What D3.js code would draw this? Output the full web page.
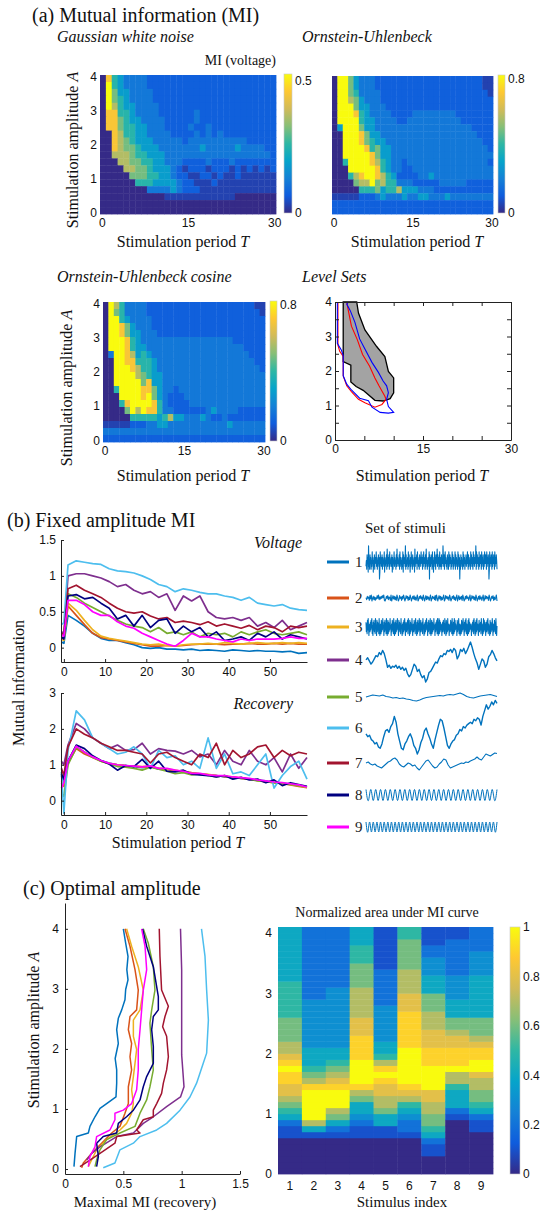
<!DOCTYPE html>
<html>
<head>
<meta charset="utf-8">
<title>Mutual information figure</title>
<script src="https://cdnjs.cloudflare.com/ajax/libs/d3/7.8.5/d3.min.js"></script>
<style>
  body { margin: 0; background: #fff; }
</style>
</head>
<body>
<div class="container"></div>
<script>

// ---------- data ----------

// (a) heatmaps: colour level 0..9 per cell, rows from A=4 (top) down to A=0, 30 columns T=0..30
const gaussLevels = [
  "0854333322"+"2222222222"+"2222222222",
  "0954333322"+"2222222222"+"2222222222",
  "0964433332"+"2222222222"+"2222222222",
  "0965433332"+"2222222222"+"2222222222",
  "0975443333"+"2222222222"+"2222222222",
  "0885543333"+"2222223222"+"2222222222",
  "0886544333"+"3222223222"+"2222222222",
  "0886554433"+"3222232232"+"2222222222",
  "0087554433"+"3322223232"+"3222222222",
  "0087654443"+"3333233333"+"3333322222",
  "0087665444"+"3333333433"+"3334333322",
  "0077765544"+"4333333333"+"3333333332",
  "0007766554"+"4333222232"+"2232222222",
  "0000776654"+"4432122212"+"2212121212",
  "0000066655"+"4432211221"+"2112111111",
  "0000005554"+"4443221112"+"1111111111",
  "0000000033"+"3343222111"+"1111111111",
  "0000000000"+"0111111111"+"1110000000",
  "0000000000"+"0000000000"+"0000000000",
  "0000000000"+"0000000000"+"0000000000"
];
const ouLevels = [
  "0996433322"+"2222222222"+"2222222211",
  "0996433322"+"2222222222"+"2222222211",
  "0996533332"+"2222222222"+"2222222221",
  "0997643332"+"2222222222"+"2222222222",
  "0999644333"+"2222222222"+"2222222222",
  "0999854333"+"3222233333"+"3332222222",
  "0999954433"+"3322333333"+"3333222222",
  "0499964433"+"3333333333"+"3333332222",
  "0099986443"+"3333333333"+"3333333222",
  "0099986544"+"3333333333"+"3333333322",
  "0099998564"+"4333333333"+"3333333332",
  "0099999864"+"4333333333"+"3333333333",
  "0059999875"+"4332333333"+"3333333332",
  "0009999985"+"4332233333"+"3333333333",
  "0005789987"+"5422223343"+"3333333333",
  "0000677967"+"5533322222"+"3333322222",
  "0000055564"+"5574443332"+"2222222222",
  "1111122234"+"3334334433"+"3433333333",
  "2222222222"+"2222222222"+"2222222222",
  "2222222222"+"2222222222"+"2222222222"
];
const oucLevels = [
  "0975333322"+"2222222222"+"2222222211",
  "0965333322"+"2222222222"+"2222222221",
  "0995433332"+"2222222222"+"2222222222",
  "0998643332"+"2222222222"+"2222222222",
  "0998644333"+"2222222222"+"2222222222",
  "0999854333"+"3333333333"+"3333222222",
  "0999854433"+"3333333333"+"3333332222",
  "0399874543"+"3333333333"+"3333333222",
  "0099885554"+"3333333333"+"3333333322",
  "0099987554"+"3333333333"+"3333333332",
  "0099997654"+"4333333333"+"3333333333",
  "0099999684"+"4333333333"+"3333333333",
  "0059999886"+"4332333333"+"3333333333",
  "0009999896"+"4322233333"+"3333333333",
  "0005899998"+"5322223333"+"3333333333",
  "0000697988"+"5332222223"+"4333322222",
  "0000055555"+"4574433343"+"2232222222",
  "1111122233"+"4433333333"+"3334333333",
  "3333333333"+"3333333333"+"3333333333",
  "2222222222"+"2222222222"+"2222222222"
];
// fraction of the colour range for each level
const levelFrac = [0, 0.06, 0.14, 0.22, 0.35, 0.48, 0.6, 0.7, 0.86, 1];
const gaussMax = 0.5, ouMax = 0.8, oucMax = 0.8;

// level sets [T, A]
const levelGray = [[1.4,4],[1.4,2.27],[2.7,2.17],[2.7,1.68],[3.6,1.55],[4.8,1.44],[6.8,1.15],[8.2,1.13],[9.4,1.2],[10,1.37],[10,1.8],[9.1,1.99],[8.5,2.42],[7.1,2.71],[5.1,3.19],[4.0,3.68],[3.7,4]];
const levelRed = [[0.5,4],[0.5,2.75],[0.8,2.57],[1.4,2.42],[1.4,1.86],[2.0,1.57],[2.8,1.4],[4,1.18],[5.1,1.08],[6.8,0.95],[8.0,1.03],[8.7,1.18],[8.5,1.27],[7.5,1.57],[6.8,1.8],[5.9,2.14],[4.7,2.48],[3.8,2.91],[2.8,3.3],[2.3,3.73],[2.0,4.0]];
const levelBlue = [[0.4,4],[0.4,2.8],[1.1,2.6],[1.4,2.45],[1.4,1.86],[2.0,1.62],[2.8,1.45],[4.2,1.21],[5.7,1.14],[6.3,0.95],[7.7,0.8],[9.1,0.78],[10,0.8],[9.1,0.97],[8.8,1.18],[9.1,1.37],[8.8,1.57],[8.2,1.71],[7.4,1.96],[6.3,2.25],[5.1,2.64],[4.2,2.93],[3.4,3.41],[2.6,3.75],[2.0,3.94],[2.3,4.0]];

// (b) fixed amplitude MI
const stimIds = [1,2,3,4,5,6,7,8,9];
const tB = [-0.6,0,1,3,5,7,9,11,13,15,17,19,21,23,25,27,29,31,33,35,37,39,41,43,45,47,49,51,53,55,57,59];
const voltMI = [
  [0.08,0.06,0.45,0.38,0.30,0.20,0.13,0.10,0.10,0.07,0.04,0.00,-0.01,0.00,-0.02,-0.02,-0.03,-0.02,-0.04,-0.03,-0.04,-0.05,-0.03,-0.04,-0.05,-0.04,-0.05,-0.05,-0.06,-0.05,-0.08,-0.07],
  [0.15,0.12,0.58,0.45,0.32,0.20,0.14,0.12,0.10,0.08,0.06,0.04,0.02,0.02,0.03,0.02,0.03,0.04,0.05,0.05,0.05,0.04,0.05,0.05,0.06,0.05,0.05,0.06,0.05,0.06,0.05,0.05],
  [0.12,0.10,0.62,0.52,0.38,0.25,0.16,0.13,0.11,0.09,0.07,0.05,0.04,0.05,0.03,0.02,0.04,0.05,0.05,0.06,0.05,0.07,0.06,0.05,0.06,0.07,0.06,0.06,0.07,0.06,0.07,0.06],
  [0.22,0.20,1.00,1.03,1.03,1.00,0.97,0.92,0.85,0.88,0.80,0.75,0.78,0.70,0.75,0.52,0.72,0.65,0.72,0.50,0.42,0.40,0.42,0.38,0.42,0.30,0.35,0.28,0.38,0.25,0.30,0.35],
  [0.20,0.18,0.75,0.70,0.62,0.56,0.50,0.44,0.38,0.33,0.30,0.28,0.22,0.28,0.20,0.22,0.18,0.22,0.15,0.20,0.18,0.20,0.15,0.22,0.18,0.22,0.25,0.20,0.18,0.20,0.22,0.18],
  [0.32,0.35,1.15,1.21,1.19,1.17,1.16,1.10,1.07,1.06,1.04,1.00,0.95,0.88,0.85,0.78,0.82,0.80,0.77,0.75,0.75,0.72,0.70,0.66,0.70,0.62,0.60,0.58,0.60,0.55,0.53,0.52],
  [0.20,0.18,0.82,0.87,0.80,0.75,0.70,0.62,0.55,0.50,0.48,0.50,0.44,0.40,0.42,0.35,0.37,0.35,0.32,0.36,0.30,0.33,0.30,0.27,0.31,0.25,0.30,0.28,0.22,0.30,0.28,0.30],
  [0.15,0.12,0.72,0.74,0.68,0.70,0.62,0.55,0.40,0.45,0.30,0.45,0.28,0.38,0.40,0.20,0.30,0.22,0.28,0.15,0.22,0.10,0.12,0.15,0.10,0.20,0.15,0.22,0.12,0.18,0.15,0.12],
  [0.18,0.16,0.66,0.66,0.60,0.50,0.45,0.45,0.36,0.30,0.27,0.20,0.15,0.10,0.05,0.02,0.10,0.20,0.15,0.15,0.12,0.10,0.08,0.12,0.10,0.12,0.12,0.12,0.13,0.15,0.13,0.13]
];
const recMI = [
  [0.7,0.5,1.1,1.5,1.35,1.22,1.12,1.05,1.0,0.98,0.95,0.92,0.95,0.88,0.87,0.82,0.8,0.76,0.74,0.72,0.7,0.66,0.65,0.62,0.6,0.57,0.55,0.5,0.49,0.46,0.43,0.38],
  [0.5,0.4,1.05,1.45,1.3,1.2,1.1,1.03,1.0,0.97,0.96,0.93,0.95,0.9,0.88,0.83,0.82,0.78,0.75,0.72,0.7,0.67,0.66,0.62,0.6,0.56,0.53,0.5,0.48,0.44,0.4,0.36],
  [0.55,0.45,1.1,1.5,1.35,1.22,1.1,1.04,1.0,0.98,0.97,0.95,0.96,0.9,0.88,0.85,0.8,0.77,0.75,0.73,0.7,0.68,0.66,0.63,0.6,0.57,0.53,0.5,0.48,0.45,0.42,0.37],
  [1.1,1.0,1.55,2.15,2.0,1.75,1.6,1.45,1.55,1.4,1.42,1.6,1.3,1.45,1.4,1.38,1.3,1.4,1.22,1.3,1.0,1.4,1.1,1.0,1.4,1.1,1.0,1.2,0.8,1.3,0.9,1.2],
  [0.2,0.12,1.0,1.48,1.35,1.2,1.1,1.02,0.95,0.93,0.9,0.85,0.93,0.88,0.82,0.75,0.78,0.72,0.74,0.7,0.66,0.7,0.62,0.64,0.6,0.55,0.53,0.5,0.47,0.45,0.42,0.38],
  [0.8,-0.35,1.4,2.5,2.25,1.75,1.6,1.45,1.3,1.35,1.5,1.3,0.9,1.4,1.2,1.25,1.0,1.1,0.9,1.75,0.9,1.3,0.75,0.8,0.7,1.0,1.3,0.35,0.7,0.95,1.1,0.6],
  [0.9,0.7,1.5,2.0,1.85,1.75,1.6,1.5,1.4,1.4,1.35,1.3,1.05,1.3,1.35,1.2,1.1,1.0,1.3,1.2,1.6,1.0,1.4,1.2,1.3,1.5,1.55,1.2,1.4,1.25,1.35,1.3],
  [0.75,0.6,1.1,1.55,1.45,1.25,1.12,1.02,0.85,0.98,0.95,1.15,0.9,1.1,0.82,0.8,0.85,0.74,0.72,0.7,0.66,0.7,0.6,0.65,0.58,0.6,0.5,0.58,0.42,0.5,0.45,0.4],
  [0.35,0.5,1.1,1.52,1.35,1.22,1.12,1.04,1.0,0.98,0.96,0.94,0.97,0.9,0.9,0.85,0.82,0.76,0.76,0.72,0.7,0.7,0.66,0.64,0.62,0.58,0.55,0.52,0.5,0.47,0.44,0.38]
];

// stimulus traces: noise strings (digit levels, u/d = spikes), walks in [-1,1], sines as +/- peaks
const stim1 = "3527461u35"+"2746253846"+"1537264583"+"6254736d18"+"4635726453"+"8163547295"+"3647283546"+"3716254836"+"4527394635"+"4728364526"+
              "38175463u2"+"7354628374"+"5163846273"+"5461936457"+"2846352746"+"3854627384"+"6527394625"+"3648d75364"+"7283516483"+"6274593746"+
              "2583462735"+"4u63725846"+"3527462835"+"7462538472"+"6354827364"+"5283746d52"+"7364528374"+"6254736485"+"2736452847"+"3652847365"+
              "4u28374652"+"8364752836"+"4725386475"+"2836475d28"+"3647528364"+"7528364752";
const stim2 = "5274618390"+"4726153849"+"2637485910"+"3748265190"+"4837261950"+"2846173950"+"3847162950"+"4738261590"+"2748361950"+"4827361590"+
              "3746281950"+"4837162590"+"2847361950"+"3748261590"+"4826371950"+"2738461590"+"3847261950"+"4728361590"+"2837461950"+"3748162590";
const stim3 = "7261839405"+"6273849150"+"7382619450"+"8273619405"+"6182739450"+"7283619405"+"8172639450"+"6283719405"+"7182639450"+"8273619450"+
              "6172839405"+"7263819450"+"8172639405"+"6283719450"+"7182639405"+"8263719450"+"6172839450"+"7283619405"+"8172639450"+"6273819405"+
              "9182736405"+"7283619540"+"8172936405"+"6283719504"+"7192836450"+"8273916405"+"6182739540"+"7283916405"+"8192736450"+"6273819540"+
              "7182936405"+"8263719540"+"6192837405"+"7283916450"+"8172639504"+"6283719405";
const stim4 = [0.1,0.2,0.05,-0.1,0.0,0.15,0.3,0.25,0.45,0.35,0.55,0.4,0.1,-0.25,-0.15,-0.3,-0.2,-0.25,-0.15,-0.3,-0.2,-0.35,-0.25,-0.4,-0.3,-0.55,-0.7,-0.6,-0.35,-0.1,-0.2,-0.45,-0.35,-0.6,-0.75,-0.65,-0.95,-0.8,-0.5,-0.45,-0.3,-0.15,0.0,-0.05,0.15,0.3,0.25,0.4,0.35,0.55,0.5,0.6,0.45,0.65,0.55,0.15,0.3,0.6,0.5,0.65,0.4,0.55,0.75,0.95,0.7,0.4,0.15,-0.05,-0.35,-0.1,0.15,0.05,-0.25,-0.1,0.25,0.35,0.55,0.4,0.2,0.05];
const stim5 = [0,0.2,0.4,0.3,0.2,0.4,0.1,0,-0.2,-0.1,-0.3,-0.2,-0.4,-0.5,-0.7,-0.8,-0.6,-0.3,-0.1,0,0.1,0.2,0.3,0.2,0.4,0.5,0.4,0.6,0.8,0.5,0.1,-0.1,-0.2,0.0,0.2,0.3,0.4,0.5,0.3,0.1];
const stim6 = [-0.2,-0.3,-0.25,-0.4,-0.45,-0.55,-0.5,-0.65,-0.7,-0.55,-0.3,-0.1,-0.05,-0.15,0.05,0.15,0.4,0.2,-0.2,-0.45,-0.7,-0.75,-0.55,-0.45,-0.3,-0.2,-0.35,-0.6,-0.7,-0.9,-0.75,-0.5,-0.35,-0.1,0.0,-0.2,-0.35,-0.55,-0.7,-0.4,-0.15,0.1,0.3,0.25,0.0,-0.3,-0.6,-0.7,-0.55,-0.45,-0.4,-0.25,-0.2,-0.05,-0.1,0.05,0.0,0.1,0.15,0.2,0.15,0.3,0.25,0.35,0.3,0.1,0.4,0.6,0.8,0.65,0.75,0.9,0.8,0.95,0.85];
const stim7 = [-0.1,0.0,-0.2,-0.3,-0.2,-0.4,-0.5,-0.6,-0.4,-0.2,0.0,0.1,0.3,0.4,0.2,-0.2,-0.4,-0.5,-0.3,-0.1,-0.2,-0.4,-0.3,-0.6,-0.8,-0.5,-0.2,0.1,0.2,-0.1,-0.4,-0.6,-0.5,-0.2,0.0,0.3,0.2,-0.3,-0.6,-0.5,-0.4,-0.3,-0.2,-0.1,-0.15,0.0,-0.05,0.1,0.2,0.3,0.5,0.3,0.2,0.5,0.8,0.7,0.6,0.75,0.9,0.85];
const stim8 = "+-+-+-+-+-"+"+-+-+-+-+-"+"+-+-+-+-+-"+"+-+-+-+-+-"+"+-+-+-+-+-"+"+-+-+";
const stim9 = "+-+-+-+-+-"+"+-+-+-+-+-"+"+-+-+-+-+-"+"+-+-+-+-+-"+"+-+-+-+-+-"+"+-+-+-+-+-"+"+-+-+-+-+-"+"+-+";

// (c) maximal MI vs amplitude, [MI, A]
const optMI = [
  [[0.077,0.04],[0.086,0.26],[0.1,0.54],[0.2,0.6],[0.214,0.71],[0.257,0.87],[0.3,1.01],[0.357,1.09],[0.437,1.2],[0.443,1.43],[0.443,1.65],[0.43,1.84],[0.457,2.09],[0.443,2.32],[0.457,2.51],[0.486,2.65],[0.514,2.82],[0.52,2.99],[0.54,3.15],[0.53,3.32],[0.54,3.54],[0.52,3.76],[0.5,4.0]],
  [[0.143,0.02],[0.157,0.1],[0.228,0.26],[0.314,0.43],[0.4,0.6],[0.471,0.71],[0.514,0.93],[0.543,1.09],[0.543,1.37],[0.571,1.65],[0.557,1.87],[0.571,2.09],[0.543,2.32],[0.557,2.54],[0.614,2.65],[0.628,2.98],[0.6,3.32],[0.557,3.71],[0.514,4.0]],
  [[0.2,0.04],[0.228,0.15],[0.271,0.32],[0.357,0.49],[0.471,0.65],[0.528,0.76],[0.571,0.93],[0.586,1.09],[0.571,1.32],[0.586,1.54],[0.6,1.76],[0.614,1.99],[0.586,2.21],[0.586,2.48],[0.643,2.65],[0.671,2.98],[0.628,3.37],[0.571,3.71],[0.528,4.0]],
  [[0.186,0.15],[0.228,0.26],[0.3,0.37],[0.443,0.54],[0.586,0.6],[0.671,0.76],[0.757,0.87],[0.871,1.04],[0.99,1.2],[1.02,1.37],[1.0,1.9],[1.0,2.48],[1.0,3.32],[0.99,4.0]],
  [[0.257,0.04],[0.271,0.15],[0.3,0.32],[0.357,0.49],[0.471,0.6],[0.6,0.71],[0.643,0.93],[0.7,1.15],[0.728,1.37],[0.757,1.65],[0.743,1.99],[0.728,2.43],[0.743,2.65],[0.771,2.98],[0.757,3.37],[0.714,3.76],[0.671,4.0]],
  [[0.328,0.02],[0.428,0.1],[0.471,0.32],[0.586,0.43],[0.643,0.54],[0.786,0.65],[0.871,0.76],[0.986,0.98],[1.071,1.2],[1.128,1.43],[1.185,1.76],[1.214,1.93],[1.229,2.48],[1.214,2.98],[1.2,3.54],[1.17,4.0]],
  [[0.128,0.04],[0.214,0.15],[0.3,0.26],[0.428,0.43],[0.443,0.54],[0.643,0.6],[0.614,0.65],[0.671,0.82],[0.757,0.87],[0.757,0.98],[0.786,1.09],[0.828,1.26],[0.843,1.43],[0.871,1.65],[0.886,1.87],[0.871,2.21],[0.837,2.37],[0.857,2.54],[0.886,2.71],[0.828,2.98],[0.814,3.54],[0.808,4.0]],
  [[0.271,0.04],[0.286,0.21],[0.271,0.43],[0.328,0.54],[0.443,0.6],[0.457,0.76],[0.528,0.87],[0.586,0.98],[0.643,1.15],[0.671,1.37],[0.7,1.54],[0.757,1.76],[0.757,2.04],[0.743,2.32],[0.757,2.54],[0.8,2.65],[0.8,2.87],[0.757,3.37],[0.7,3.71],[0.665,4.0]],
  [[0.2,0.04],[0.214,0.21],[0.257,0.37],[0.271,0.54],[0.385,0.65],[0.428,0.82],[0.428,0.93],[0.5,0.98],[0.571,1.09],[0.614,1.32],[0.628,1.65],[0.628,1.99],[0.643,2.32],[0.657,2.65],[0.671,2.98],[0.7,3.32],[0.686,3.71],[0.657,4.0]]
];

// (c) normalized area under MI curve: one string per stimulus, A = 0.0 .. 4.0 step 0.1, char/10
const areaCols = [
  "000000112456788"+"99a98"+"776666"+"555555"+"444444444",
  "000000147aaaaa9"+"76544"+"433333"+"333222"+"222222222",
  "00000012467aaa9"+"87654"+"433333"+"333332"+"222222222",
  "000000112344679"+"aaaa9"+"999888"+"777776"+"666555444",
  "000000114467788"+"9a975"+"443333"+"332222"+"221111111",
  "000000122345789"+"aaaaa"+"a99999"+"988877"+"776666655",
  "00011245667788a"+"aaa99"+"988877"+"766644"+"433322111",
  "000000000124445"+"77a99"+"988766"+"444333"+"322222211",
  "000000011245667"+"78aa9"+"987666"+"444444"+"433332222"
];
const areaTicks = [0,0.2,0.4,0.6,0.8,1];

// ---------- drawing ----------
const svgWidth = 544, svgHeight = 1214;
const serif = '"Liberation Serif","Times New Roman",serif';
const sans = '"Liberation Sans",Arial,Helvetica,sans-serif';
const lineColors = ["#0072BD","#D95319","#EDB120","#7E2F8E","#77AC30","#4DBEEE","#A2142F","#000080","#FF00FF"];
const parulaStops = ["#352a87","#0f5cdd","#1481d6","#06a4ca","#2eb7a4","#87bf77","#d1bb59","#fec832","#f9fb0e"];
const parula = d3.scaleLinear().domain(parulaStops.map((c,i) => i/8)).range(parulaStops).clamp(true);
const fmt = d3.format('~g');

const svg = d3.select('.container').append('svg')
  .attr('width', svgWidth).attr('height', svgHeight)
  .style('background', '#fff');
const defs = svg.append('defs');

function txt(x, y, parts, size, anchor, rot) {
  const t = svg.append('text')
    .attr('font-family', serif).attr('font-size', size)
    .attr('text-anchor', anchor || 'start').attr('fill', '#111');
  if (rot) t.attr('transform', `translate(${x},${y}) rotate(${rot})`);
  else t.attr('x', x).attr('y', y);
  (typeof parts === 'string' ? [[parts, false]] : parts).forEach(p => {
    t.append('tspan').attr('font-style', p[1] ? 'italic' : null).text(p[0]);
  });
  return t;
}

function styleAxis(g, keepDomain) {
  g.attr('font-family', sans).attr('font-size', 12);
  g.selectAll('text').attr('fill', '#111');
  g.selectAll('line').attr('stroke', '#222');
  if (keepDomain) g.select('.domain').attr('stroke', '#222');
  else g.select('.domain').remove();
}

function colorbar(id, x, y0, y1, w, top, ticks) {
  const grad = defs.append('linearGradient').attr('id', id)
    .attr('x1', 0).attr('y1', 1).attr('x2', 0).attr('y2', 0);
  parulaStops.forEach((c, i) => grad.append('stop').attr('offset', i / 8).attr('stop-color', c));
  svg.append('rect').attr('x', x).attr('y', y0).attr('width', w).attr('height', y1 - y0)
    .attr('fill', `url(#${id})`).attr('stroke', '#c8c8c8').attr('stroke-width', 0.6);
  const s = d3.scaleLinear().domain([0, top]).range([y1, y0]);
  svg.append('g').attr('transform', `translate(${x + w},0)`)
    .call(d3.axisRight(s).tickValues(ticks).tickSizeInner(0).tickSizeOuter(0).tickPadding(3).tickFormat(fmt))
    .call(g => styleAxis(g));
}

function heatmapA(levels, box, maxV, id, cbTop, withY) {
  const nR = levels.length, nC = levels[0].length;
  const xb = d3.scaleBand().domain(d3.range(nC)).range([box.x0, box.x1]);
  const yb = d3.scaleBand().domain(d3.range(nR)).range([box.y0, box.y1]);
  const cells = [];
  levels.forEach((row, i) => row.split('').forEach((c, j) => cells.push({i: i, j: j, v: levelFrac[+c] * maxV})));
  svg.append('g').selectAll('rect').data(cells).join('rect')
    .attr('x', d => xb(d.j)).attr('y', d => yb(d.i))
    .attr('width', xb.bandwidth() + 0.4).attr('height', yb.bandwidth() + 0.4)
    .attr('fill', d => parula(d.v / maxV));
  const xl = d3.scaleLinear().domain([-0.3, 30.3]).range([box.x0, box.x1]);
  const yl = d3.scaleLinear().domain([-0.05, 4.05]).range([box.y1, box.y0]);
  svg.append('g').attr('transform', `translate(0,${box.y1})`)
    .call(d3.axisBottom(xl).tickValues([0, 15, 30]).tickSize(0).tickPadding(4).tickFormat(fmt))
    .call(g => styleAxis(g));
  if (withY) {
    svg.append('g').attr('transform', `translate(${box.x0},0)`)
      .call(d3.axisLeft(yl).tickValues([0, 1, 2, 3, 4]).tickSize(0).tickPadding(3).tickFormat(fmt))
      .call(g => styleAxis(g));
  }
  colorbar(id, box.cb, box.y0 - 1, box.y1 - 1, box.cbw, cbTop, [0, maxV]);
}

// ----- panel (a)
txt(32, 22, '(a) Mutual information (MI)', 20);
txt(57, 42, [['Gaussian white noise', true]], 16);
txt(302, 42, [['Ornstein-Uhlenbeck', true]], 16);
txt(276, 65, 'MI (voltage)', 14, 'end');
txt(57, 282, [['Ornstein-Uhlenbeck cosine', true]], 16);
txt(302, 282, [['Level Sets', true]], 16);

heatmapA(gaussLevels, {x0: 100, x1: 276, y0: 75, y1: 214, cb: 284, cbw: 8}, gaussMax, 'cbG', 0.527, true);
heatmapA(ouLevels, {x0: 332, x1: 493, y0: 76, y1: 214, cb: 498, cbw: 7}, ouMax, 'cbO', 0.82, false);
heatmapA(oucLevels, {x0: 103, x1: 265, y0: 302, y1: 442, cb: 270, cbw: 7}, oucMax, 'cbC', 0.82, true);

const ylab = [['Stimulation amplitude ', false], ['A', true]];
const xlab = [['Stimulation period ', false], ['T', true]];
txt(78, 150, ylab, 16, 'middle', -90);
txt(72, 388, ylab, 16, 'middle', -90);
txt(183, 247, xlab, 16, 'middle');
txt(417, 247, xlab, 16, 'middle');
txt(183, 481, xlab, 16, 'middle');
txt(422, 481, xlab, 16, 'middle');

// level sets
const xL = d3.scaleLinear().domain([0, 30]).range([335, 511]);
const yL = d3.scaleLinear().domain([0, 4]).range([440, 302]);
const lvLine = d3.line().x(d => xL(d[0])).y(d => yL(d[1]));
svg.append('path').attr('d', lvLine(levelGray) + 'Z')
  .attr('fill', '#a3a3a3').attr('stroke', '#000').attr('stroke-width', 1.3);
svg.append('path').attr('d', lvLine(levelRed)).attr('fill', 'none').attr('stroke', '#ff0000').attr('stroke-width', 1.1);
svg.append('path').attr('d', lvLine(levelBlue)).attr('fill', 'none').attr('stroke', '#0000ff').attr('stroke-width', 1.1);
const xLt = [0, 5, 10, 15, 20, 25, 30], yLt = [0, 0.5, 1, 1.5, 2, 2.5, 3, 3.5, 4];
svg.append('g').attr('transform', 'translate(0,440)')
  .call(d3.axisBottom(xL).tickValues(xLt).tickSizeInner(-4).tickSizeOuter(0).tickPadding(4).tickFormat(d => d % 15 === 0 ? d : ''))
  .call(g => styleAxis(g, true));
svg.append('g').attr('transform', 'translate(0,302)')
  .call(d3.axisTop(xL).tickValues(xLt).tickSizeInner(-4).tickSizeOuter(0).tickFormat(''))
  .call(g => styleAxis(g, true));
svg.append('g').attr('transform', 'translate(335,0)')
  .call(d3.axisLeft(yL).tickValues(yLt).tickSizeInner(-4).tickSizeOuter(0).tickPadding(3).tickFormat(d => Number.isInteger(d) ? d : ''))
  .call(g => styleAxis(g, true));
svg.append('g').attr('transform', 'translate(511,0)')
  .call(d3.axisRight(yL).tickValues(yLt).tickSizeInner(-4).tickSizeOuter(0).tickFormat(''))
  .call(g => styleAxis(g, true));

// ----- panel (b)
txt(7, 527, '(b) Fixed amplitude MI', 20);
const xB = d3.scaleLinear().domain([-0.7, 59]).range([61, 307]);
const yV = d3.scaleLinear().domain([-0.2, 1.5]).range([662, 540]);
const yR = d3.scaleLinear().domain([-0.4, 3]).range([815, 693]);
const xBt = [0, 10, 20, 30, 40, 50];

function miPanel(series, yS, yTicks, yBottom) {
  const line = d3.line().x((d, i) => xB(tB[i])).y(d => yS(d));
  svg.append('g').selectAll('path').data(series).join('path')
    .attr('d', d => line(d.slice(0, tB.length)))
    .attr('fill', 'none')
    .attr('stroke', (d, i) => lineColors[i])
    .attr('stroke-width', 1.7)
    .attr('stroke-linejoin', 'round');
  svg.append('g').attr('transform', 'translate(61,0)')
    .call(d3.axisLeft(yS).tickValues(yTicks).tickSizeInner(-3).tickSizeOuter(0).tickPadding(5).tickFormat(fmt))
    .call(g => styleAxis(g, true));
  svg.append('g').attr('transform', `translate(0,${yBottom})`)
    .call(d3.axisBottom(xB).tickValues(xBt).tickSizeInner(-3).tickSizeOuter(0).tickPadding(5).tickFormat(fmt))
    .call(g => styleAxis(g, true));
}
miPanel(voltMI, yV, [0, 0.5, 1, 1.5], 662);
miPanel(recMI, yR, [0, 1, 2, 3], 815);
txt(302, 548, [['Voltage', true]], 16, 'end');
txt(293, 709, [['Recovery', true]], 16, 'end');
txt(24, 683, 'Mutual information', 16, 'middle', -90);
txt(178, 848, xlab, 16, 'middle');

// stimuli legend and traces
txt(365, 533, 'Set of stimuli', 15);
const rowY = [562, 598, 627, 662, 697, 728, 762, 795, 827];
const rowAmp = [13, 3, 8.5, 21, 5, 29, 10, 5.5, 5];
const stimData = [stim1, stim2, stim3, stim4, stim5, stim6, stim7, stim8, stim9];
const stimLevel = c => c === 'u' ? 1.25 : c === 'd' ? -1.3 : c === '+' ? 1 : c === '-' ? -1 : (+c - 4.5) / 4.5;
const legendY = [562, 598, 627, 660, 697, 728, 763, 795, 827];

svg.append('g').selectAll('line').data(stimIds).join('line')
  .attr('x1', 327).attr('x2', 349)
  .attr('y1', (d, i) => legendY[i]).attr('y2', (d, i) => legendY[i])
  .attr('stroke', (d, i) => lineColors[i]).attr('stroke-width', 3);
svg.append('g').selectAll('text').data(stimIds).join('text')
  .attr('x', 355).attr('y', (d, i) => legendY[i] + 5)
  .attr('font-family', serif).attr('font-size', 15).attr('fill', '#222')
  .text(d => d);

stimData.forEach((s, k) => {
  const vals = typeof s === 'string' ? s.split('').map(stimLevel) : s;
  const xs = d3.scaleLinear().domain([0, vals.length - 1]).range([366, 497]);
  const ys = d3.scaleLinear().domain([-1, 1]).range([rowY[k] + rowAmp[k], rowY[k] - rowAmp[k]]);
  const ln = d3.line().x((d, i) => xs(i)).y(d => ys(d));
  if (k >= 7) ln.curve(d3.curveNatural);
  svg.append('path').attr('d', ln(vals))
    .attr('fill', 'none').attr('stroke', '#0072BD')
    .attr('stroke-width', k >= 7 ? 1 : (k === 3 || k === 5 ? 1.4 : 1.1)).attr('stroke-linejoin', 'round');
});

// ----- panel (c)
txt(23, 895, '(c) Optimal amplitude', 20);
const xC = d3.scaleLinear().domain([0, 1.5]).range([65, 240]);
const yC = d3.scaleLinear().domain([-0.083, 4.43]).range([1174, 903]);
const cLine = d3.line().x(d => xC(d[0])).y(d => yC(d[1]));
svg.append('g').selectAll('path').data(optMI).join('path')
  .attr('d', d => cLine(d))
  .attr('fill', 'none').attr('stroke', (d, i) => lineColors[i])
  .attr('stroke-width', 1.5).attr('stroke-linejoin', 'round');
svg.append('g').attr('transform', 'translate(65,0)')
  .call(d3.axisLeft(yC).tickValues([0, 1, 2, 3, 4]).tickSizeInner(-3).tickSizeOuter(0).tickPadding(6).tickFormat(fmt))
  .call(g => styleAxis(g, true));
svg.append('g').attr('transform', 'translate(0,1174)')
  .call(d3.axisBottom(xC).tickValues([0, 0.5, 1, 1.5]).tickSizeInner(-3).tickSizeOuter(0).tickPadding(5).tickFormat(fmt))
  .call(g => styleAxis(g, true));
txt(39, 1030, ylab, 16, 'middle', -90);
txt(145, 1207, 'Maximal MI (recovery)', 15, 'middle');

// area heatmap
const xH = d3.scaleBand().domain(stimIds).range([278, 493]);
const yH = d3.scaleLinear().domain([0, 4.1]).range([1174, 927]);
const areaCells = [];
areaCols.forEach((col, j) => col.split('').forEach((c, k) => areaCells.push({s: stimIds[j], a: k / 10, v: parseInt(c, 36) / 10})));
svg.append('g').selectAll('rect').data(areaCells).join('rect')
  .attr('x', d => xH(d.s)).attr('width', xH.bandwidth() + 0.4)
  .attr('y', d => yH(d.a + 0.1)).attr('height', d => yH(d.a) - yH(d.a + 0.1) + 0.4)
  .attr('fill', d => parula(d.v));
svg.append('g').attr('transform', 'translate(278,0)')
  .call(d3.axisLeft(yH).tickValues([0, 1, 2, 3, 4]).tickSize(0).tickPadding(6).tickFormat(fmt))
  .call(g => styleAxis(g));
svg.append('g').attr('transform', 'translate(0,1174)')
  .call(d3.axisBottom(xH).tickSize(0).tickPadding(7))
  .call(g => styleAxis(g));
txt(387, 917, 'Normalized area under MI curve', 14, 'middle');
txt(402, 1207, 'Stimulus index', 15, 'middle');
colorbar('cbA', 510, 927, 1174, 10, 1, areaTicks);

</script>
</body>
</html>
